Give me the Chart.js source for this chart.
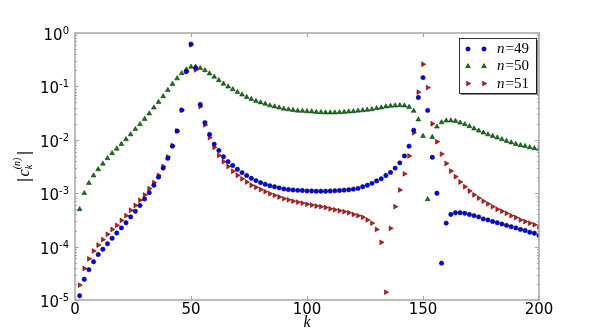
<!DOCTYPE html>
<html>
<head>
<meta charset="utf-8">
<script src="https://cdn.jsdelivr.net/npm/chart.js@4.4.0/dist/chart.umd.min.js"></script>
<style>
    html, body { margin: 0; padding: 0; background: #ffffff; }
</style>
</head>
<body>
<canvas id="graficoCoef" width="599" height="334"></canvas>
<script>
// Coeficientes |c_k^(n)| para n = 49, 50, 51

var valoresK = [2, 4, 6, 8, 10, 12, 14, 16, 18, 20, 22, 24, 26, 28, 30, 32, 34, 36, 38, 40,
    42, 44, 46, 48, 50, 52, 54, 56, 58, 60, 62, 64, 66, 68, 70, 72, 74, 76, 78, 80,
    82, 84, 86, 88, 90, 92, 94, 96, 98, 100, 102, 104, 106, 108, 110, 112, 114, 116, 118, 120,
    122, 124, 126, 128, 130, 132, 134, 136, 138, 140, 142, 144, 146, 148, 150, 152, 154, 156, 158, 160,
    162, 164, 166, 168, 170, 172, 174, 176, 178, 180, 182, 184, 186, 188, 190, 192, 194, 196, 198, 200];

var serieN49 = [1.2e-5, 2.45e-5, 3.7e-5, 5.2e-5, 7.1e-5, 8.9e-5, 1.13e-4, 1.43e-4, 1.8e-4, 2.24e-4,
    2.8e-4, 3.6e-4, 4.6e-4, 5.9e-4, 7.8e-4, 1.02e-3, 1.41e-3, 2.0e-3, 2.95e-3, 4.5e-3,
    7.6e-3, 0.0146, 0.036, 0.19, 0.62, 0.22, 0.046, 0.021, 0.0126, 8.3e-3,
    6.3e-3, 4.8e-3, 3.9e-3, 3.3e-3, 2.8e-3, 2.43e-3, 2.14e-3, 1.9e-3, 1.72e-3, 1.58e-3,
    1.47e-3, 1.38e-3, 1.32e-3, 1.26e-3, 1.2e-3, 1.17e-3, 1.15e-3, 1.13e-3, 1.12e-3, 1.1e-3,
    1.1e-3, 1.09e-3, 1.09e-3, 1.09e-3, 1.1e-3, 1.11e-3, 1.12e-3, 1.14e-3, 1.16e-3, 1.19e-3,
    1.23e-3, 1.32e-3, 1.41e-3, 1.53e-3, 1.7e-3, 1.86e-3, 2.14e-3, 2.45e-3, 2.95e-3, 3.7e-3,
    5.0e-3, 7.6e-3, 0.0151, 0.062, 0.146, 0.0355, 4.7e-3, 1.0e-3, 4.9e-5, 2.75e-4,
    4.0e-4, 4.3e-4, 4.3e-4, 4.2e-4, 4.0e-4, 3.8e-4, 3.6e-4, 3.3e-4, 3.16e-4, 2.95e-4,
    2.8e-4, 2.65e-4, 2.5e-4, 2.36e-4, 2.24e-4, 2.1e-4, 2.0e-4, 1.86e-4, 1.78e-4, 1.62e-4];

var serieN50 = [5.0e-4, 1.0e-3, 1.55e-3, 2.14e-3, 2.8e-3, 3.55e-3, 4.5e-3, 5.6e-3, 6.8e-3, 8.3e-3,
    0.0102, 0.0126, 0.0158, 0.0195, 0.0245, 0.031, 0.040, 0.051, 0.065, 0.085,
    0.111, 0.141, 0.176, 0.206, 0.232, 0.232, 0.219, 0.20, 0.174, 0.151,
    0.13, 0.112, 0.099, 0.088, 0.078, 0.07, 0.063, 0.058, 0.053, 0.050,
    0.047, 0.044, 0.042, 0.040, 0.038, 0.037, 0.036, 0.035, 0.0347, 0.0341,
    0.0339, 0.0331, 0.0327, 0.0324, 0.0324, 0.0324, 0.0327, 0.0331, 0.0337, 0.0341,
    0.035, 0.0356, 0.0363, 0.0372, 0.039, 0.040, 0.042, 0.043, 0.0437, 0.0442,
    0.0437, 0.041, 0.0347, 0.024, 0.0117, 7.7e-4, 0.0112, 0.0176, 0.0212, 0.0229,
    0.0229, 0.0225, 0.0209, 0.0195, 0.0179, 0.0162, 0.0148, 0.0136, 0.0126, 0.0117,
    0.011, 0.0102, 9.5e-3, 8.9e-3, 8.3e-3, 7.9e-3, 7.6e-3, 7.2e-3, 6.9e-3, 6.8e-3];

var serieN51 = [1.9e-5, 3.9e-5, 5.9e-5, 8.3e-5, 1.07e-4, 1.35e-4, 1.7e-4, 2.1e-4, 2.5e-4, 3.1e-4,
    3.8e-4, 4.8e-4, 5.9e-4, 7.4e-4, 9.3e-4, 1.22e-3, 1.58e-3, 2.16e-3, 3.16e-3, 4.8e-3,
    7.8e-3, 0.0146, 0.036, 0.189, 0.60, 0.204, 0.042, 0.019, 0.011, 7.2e-3,
    5.1e-3, 3.9e-3, 3.16e-3, 2.57e-3, 2.16e-3, 1.86e-3, 1.62e-3, 1.41e-3, 1.29e-3, 1.17e-3,
    1.07e-3, 9.8e-4, 9.1e-4, 8.5e-4, 7.9e-4, 7.5e-4, 7.1e-4, 6.8e-4, 6.5e-4, 6.2e-4,
    6.0e-4, 5.75e-4, 5.6e-4, 5.4e-4, 5.1e-4, 4.9e-4, 4.7e-4, 4.5e-4, 4.3e-4, 4.0e-4,
    3.8e-4, 3.55e-4, 3.16e-4, 2.75e-4, 2.1e-4, 1.2e-4, 1.4e-5, 2.2e-4, 5.6e-4, 1.15e-3,
    2.3e-3, 5.0e-3, 0.0135, 0.078, 0.26, 0.095, 0.020, 9.2e-3, 5.4e-3, 3.6e-3,
    2.6e-3, 2.04e-3, 1.62e-3, 1.32e-3, 1.1e-3, 9.3e-4, 8.1e-4, 7.1e-4, 6.3e-4, 5.6e-4,
    5.0e-4, 4.6e-4, 4.2e-4, 3.8e-4, 3.5e-4, 3.16e-4, 2.95e-4, 2.75e-4, 2.57e-4, 2.34e-4];

var etiquetasSerie = ['n=49', 'n=50', 'n=51'];
var ticksX = [0, 50, 100, 150, 200];
var ticksY = [1e-5, 1e-4, 1e-3, 1e-2, 1e-1, 1];
var exponentesY = ['-5', '-4', '-3', '-2', '-1', '0'];

var colorEje = '#a6a6a6';

function puntos(serie) {
    var lista = [];
    for (var i = 0; i < valoresK.length; i++) {
        lista.push({ x: valoresK[i], y: serie[i] });
    }
    return lista;
}

function ticksMenores() {
    // 2..9 en cada decada, solo para las marcas
    var lista = [];
    for (var d = 0; d < ticksY.length - 1; d++) {
        for (var m = 2; m <= 9; m++) {
            lista.push(ticksY[d] * m);
        }
    }
    return lista;
}

// marco, marcas, etiquetas 10^n, leyenda y titulos de ejes
var dibujoExtra = {
    id: 'dibujoExtra',
    afterDraw: function(chart) {
        var ctx = chart.ctx;
        var area = chart.chartArea;
        var ejeX = chart.scales.x;
        var ejeY = chart.scales.y;
        ctx.save();

        ctx.strokeStyle = colorEje;
        ctx.lineWidth = 1.5;
        ctx.strokeRect(area.left, area.top, area.right - area.left, area.bottom - area.top);

        ctx.lineWidth = 1;
        ctx.beginPath();
        ticksX.forEach(function(v) {
            var px = Math.round(ejeX.getPixelForValue(v)) + 0.5;
            ctx.moveTo(px, area.bottom); ctx.lineTo(px, area.bottom - 4);
            ctx.moveTo(px, area.top); ctx.lineTo(px, area.top + 4);
        });
        ticksY.forEach(function(v) {
            var py = Math.round(ejeY.getPixelForValue(v)) + 0.5;
            ctx.moveTo(area.left, py); ctx.lineTo(area.left + 4, py);
            ctx.moveTo(area.right, py); ctx.lineTo(area.right - 4, py);
        });
        ticksMenores().forEach(function(v) {
            var py = Math.round(ejeY.getPixelForValue(v)) + 0.5;
            ctx.moveTo(area.left, py); ctx.lineTo(area.left + 2, py);
            ctx.moveTo(area.right, py); ctx.lineTo(area.right - 2, py);
        });
        ctx.stroke();

        // etiquetas del eje y: 10 con exponente
        ctx.fillStyle = '#000000';
        ctx.textBaseline = 'alphabetic';
        ticksY.forEach(function(v, i) {
            var py = ejeY.getPixelForValue(v);
            ctx.font = '10px "DejaVu Sans"';
            var wExp = ctx.measureText(exponentesY[i]).width;
            ctx.textAlign = 'right';
            ctx.fillText(exponentesY[i], 69, py + 1);
            ctx.font = '15px "DejaVu Sans"';
            ctx.fillText('10', 69 - wExp, py + 7);
        });

        // leyenda
        var lx = 459, ly = 38, lw = 77, lh = 55;
        ctx.fillStyle = '#8c8c8c';
        ctx.fillRect(lx + 2, ly + 2, lw, lh);
        ctx.fillStyle = '#ffffff';
        ctx.fillRect(lx, ly, lw, lh);
        ctx.strokeStyle = '#000000';
        ctx.lineWidth = 0.8;
        ctx.strokeRect(lx + 0.5, ly + 0.5, lw, lh);

        chart.data.datasets.forEach(function(ds, i) {
            var fy = ly + 11 + i * 17.3;
            ctx.fillStyle = ds.backgroundColor;
            ctx.strokeStyle = ds.borderColor;
            ctx.lineWidth = ds.borderWidth;
            var estilo = { pointStyle: ds.pointStyle, rotation: ds.pointRotation || 0, radius: ds.pointRadius, borderWidth: ds.borderWidth };
            Chart.helpers.drawPoint(ctx, estilo, 468, fy);
            Chart.helpers.drawPoint(ctx, estilo, 484, fy);
            var partes = ds.label.split('=');
            ctx.fillStyle = '#000000';
            ctx.textBaseline = 'middle';
            ctx.textAlign = 'left';
            ctx.font = 'italic 15px "Liberation Serif"';
            ctx.fillText(partes[0], 497, fy);
            var w = ctx.measureText(partes[0]).width;
            ctx.font = '15px "Liberation Serif"';
            ctx.fillText('=' + partes[1], 497 + w + 1, fy);
        });

        // titulo eje x
        ctx.fillStyle = '#000000';
        ctx.textAlign = 'center';
        ctx.textBaseline = 'alphabetic';
        ctx.font = 'italic 16px "Liberation Serif"';
        ctx.fillText('k', 307, 327);

        // titulo eje y: |c_k^(n)|
        ctx.translate(29, 166);
        ctx.rotate(-Math.PI / 2);
        ctx.font = '15px "DejaVu Sans"';
        var wBar = ctx.measureText('|').width;
        ctx.font = 'italic 16px "Liberation Serif"';
        var wC = ctx.measureText('c').width;
        ctx.font = 'italic 10px "Liberation Serif"';
        var wN = ctx.measureText('(n)').width;
        var total = wBar * 2 + wC + wN + 4;
        var x0 = -total / 2;
        ctx.textAlign = 'left';
        ctx.font = '15px "DejaVu Sans"';
        ctx.fillText('|', x0, 0);
        ctx.font = 'italic 16px "Liberation Serif"';
        ctx.fillText('c', x0 + wBar + 1, 0);
        ctx.font = 'italic 10px "Liberation Serif"';
        ctx.fillText('k', x0 + wBar + wC + 1, 3);
        ctx.fillText('(n)', x0 + wBar + wC + 1, -9);
        ctx.font = '15px "DejaVu Sans"';
        ctx.fillText('|', x0 + wBar + wC + wN + 3, 0);

        ctx.restore();
    }
};

function graficoCoeficientes() {
    var ctx = document.getElementById('graficoCoef').getContext('2d');
    var grafico = new Chart(ctx, {
        type: 'scatter',
        data: {
            datasets: [{
                label: etiquetasSerie[0],
                data: puntos(serieN49),
                pointStyle: 'circle',
                pointRadius: 2.2,
                backgroundColor: '#0000f0',
                borderColor: '#000040',
                borderWidth: 0.5
            }, {
                label: etiquetasSerie[1],
                data: puntos(serieN50),
                pointStyle: 'triangle',
                pointRadius: 2.8,
                backgroundColor: '#117a11',
                borderColor: '#002000',
                borderWidth: 0.5
            }, {
                label: etiquetasSerie[2],
                data: puntos(serieN51),
                pointStyle: 'triangle',
                pointRotation: 90,
                pointRadius: 2.8,
                backgroundColor: '#d01818',
                borderColor: '#400000',
                borderWidth: 0.5
            }]
        },
        options: {
            responsive: false,
            animation: false,
            events: [],
            layout: { padding: { top: 33, right: 60, left: 0, bottom: 0 } },
            plugins: {
                legend: { display: false },
                tooltip: { enabled: false }
            },
            scales: {
                x: {
                    type: 'linear',
                    min: 0,
                    max: 200,
                    afterBuildTicks: function(scale) {
                        scale.ticks = ticksX.map(function(v) { return { value: v }; });
                    },
                    afterFit: function(scale) { scale.height = 34; },
                    grid: { display: false, drawTicks: false },
                    border: { display: false },
                    ticks: {
                        padding: 1,
                        color: '#000000',
                        font: { family: 'DejaVu Sans', size: 15 },
                        maxRotation: 0,
                        autoSkip: false
                    }
                },
                y: {
                    type: 'logarithmic',
                    min: 1e-5,
                    max: 1,
                    afterBuildTicks: function(scale) {
                        scale.ticks = ticksY.map(function(v) { return { value: v }; });
                    },
                    afterFit: function(scale) { scale.width = 75; },
                    grid: { display: false, drawTicks: false },
                    border: { display: false },
                    ticks: { display: false }
                }
            }
        },
        plugins: [dibujoExtra]
    });
}

graficoCoeficientes();
</script>
</body>
</html>
